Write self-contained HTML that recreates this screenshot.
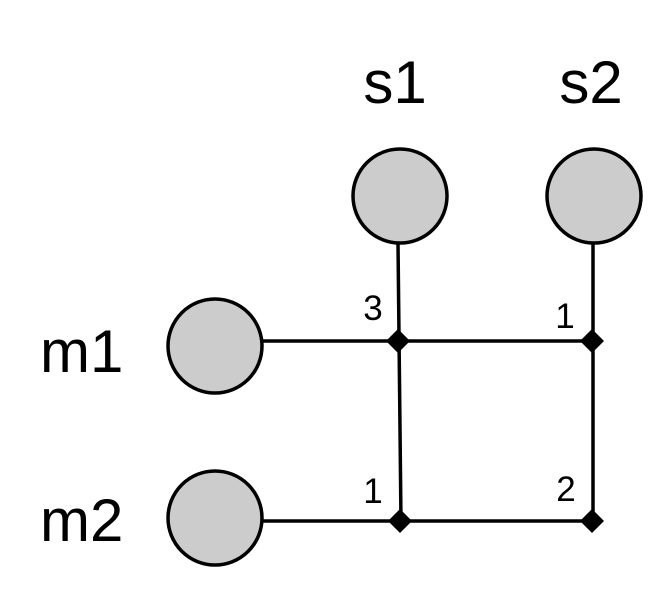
<!DOCTYPE html>
<html><head><meta charset="utf-8"><style>html,body{margin:0;padding:0;background:#fff}svg{display:block}</style></head>
<body>
<svg width="668" height="597" viewBox="0 0 668 597" xmlns="http://www.w3.org/2000/svg" font-family="Liberation Sans, sans-serif">
<g stroke="#000" stroke-width="3.5" fill="none">
<line x1="262" y1="341" x2="592" y2="341"/>
<line x1="262" y1="521" x2="592" y2="521"/>
<line x1="398" y1="243" x2="401" y2="521"/>
<line x1="593" y1="243" x2="593" y2="521"/>
</g>
<g fill="#ccc" stroke="#000" stroke-width="3.5">
<circle cx="400" cy="196" r="47"/>
<circle cx="594" cy="196" r="47"/>
<circle cx="215" cy="346" r="47"/>
<circle cx="215" cy="518" r="47"/>
</g>
<g fill="#000">
<polygon points="398,329 410,341 398,353 386,341"/>
<polygon points="592,329 604,341 592,353 580,341"/>
<polygon points="400,509 412,521 400,533 388,521"/>
<polygon points="592,509 604,521 592,533 580,521"/>
</g>
<g font-size="60" fill="#000">
<text x="395" y="103" text-anchor="middle">s1</text>
<text x="591" y="103" text-anchor="middle">s2</text>
<text x="40" y="372">m1</text>
<text x="40" y="541">m2</text>
</g>
<g font-size="35" fill="#000" text-anchor="middle">
<text x="373" y="320">3</text>
<text x="565" y="328">1</text>
<text x="373" y="503">1</text>
<text x="566" y="501">2</text>
</g>
</svg>
</body></html>
